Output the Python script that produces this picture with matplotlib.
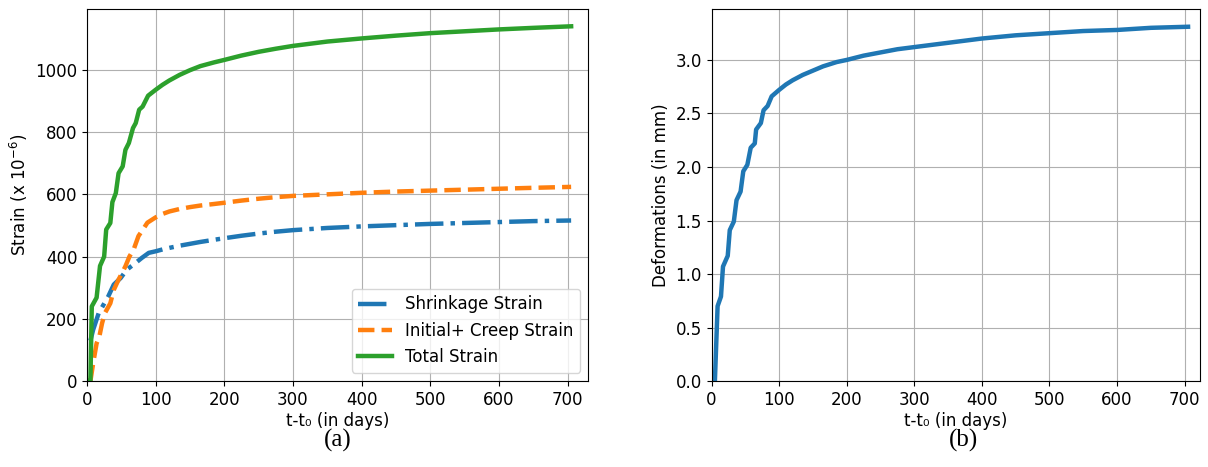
import matplotlib
matplotlib.use("Agg")
import matplotlib.pyplot as plt

# time axis for the strain curves (days)
t_total = [1, 5, 7, 14, 19, 25, 28, 34, 37, 42, 46, 52, 56, 61, 67, 71, 76, 81, 89, 100,
           110, 120, 135, 150, 165, 185, 200, 225, 250, 275, 300, 350, 400, 450, 500,
           550, 600, 650, 705]
total_strain = [0, 0, 240, 268, 370, 400, 487, 508, 575, 604, 668, 690, 743, 765, 813, 829,
                872, 882, 917, 936, 952, 966, 984, 999, 1012, 1024, 1032, 1046, 1058, 1068,
                1077, 1091, 1101, 1110, 1118, 1124, 1130, 1135, 1140]

t_creep = [5, 9, 14, 18, 22, 26, 34, 39, 46, 51, 56, 62, 68, 75, 83, 88, 100,
           110, 120, 135, 150, 165, 185, 200, 225, 250, 275, 300, 350, 400, 450, 500,
           550, 600, 650, 705]
creep_strain = [0, 57, 121, 143, 186, 218, 250, 293, 326, 347, 369, 401, 423, 466, 492, 509,
                526, 537, 545, 553, 559, 564, 569, 573, 580, 586, 591, 595, 600, 605, 609,
                612, 615, 618, 621, 624]

t_shrink = [5, 9, 17, 24, 31, 39, 49, 58, 71, 80, 90, 100,
            110, 120, 135, 150, 165, 185, 200, 225, 250, 275, 300, 350, 400, 450, 500,
            550, 600, 650, 705]
shrink_strain = [130, 165, 218, 245, 272, 310, 331, 358, 380, 396, 412, 417,
                 423, 428, 435, 441, 447, 454, 459, 467, 474, 480, 485, 492, 497, 501, 505,
                 508, 511, 514, 516]

t_def = [5, 9, 14, 17, 24, 27, 33, 37, 43, 47, 53, 58, 64, 66, 73, 77, 83, 89, 100,
         110, 120, 135, 150, 165, 185, 200, 225, 250, 275, 300, 350, 400, 450, 500,
         550, 600, 650, 705]
deformation = [0, 0.70, 0.79, 1.07, 1.17, 1.41, 1.49, 1.69, 1.77, 1.96, 2.02, 2.18, 2.22,
               2.35, 2.41, 2.53, 2.57, 2.66, 2.72, 2.77, 2.81, 2.86, 2.90, 2.94, 2.98, 3.00,
               3.04, 3.07, 3.10, 3.12, 3.16, 3.20, 3.23, 3.25, 3.27, 3.28, 3.30, 3.31]

plt.rcParams['font.size'] = 12

fig = plt.figure(figsize=(12.08, 4.67), dpi=100)
ax1 = fig.add_axes([0.072, 0.184, 0.415, 0.797])
ax2 = fig.add_axes([0.589, 0.184, 0.404, 0.797])

# (a) strains
ax1.plot(t_shrink, shrink_strain, '-.', color='#1f77b4', linewidth=3.2, label='Shrinkage Strain')
ax1.plot(t_creep, creep_strain, '--', color='#ff7f0e', linewidth=3.2, label='Initial+ Creep Strain')
ax1.plot(t_total, total_strain, '-', color='#2ca02c', linewidth=3.2, label='Total Strain')
ax1.set_xlim(0, 730)
ax1.set_ylim(0, 1196)
ax1.set_xticks(range(0, 701, 100))
ax1.set_yticks(range(0, 1001, 200))
ax1.grid(True)
ax1.set_xlabel('t-t\u2080 (in days)', labelpad=2)
ax1.set_ylabel('Strain (x $10^{-6}$)')
ax1.legend(loc='lower right', fontsize=12)

# (b) deformations
ax2.plot(t_def, deformation, '-', color='#1f77b4', linewidth=3.2)
ax2.set_xlim(0, 722)
ax2.set_ylim(0, 3.477)
ax2.set_xticks(range(0, 701, 100))
ax2.set_yticks([0.0, 0.5, 1.0, 1.5, 2.0, 2.5, 3.0])
ax2.grid(True)
ax2.set_xlabel('t-t\u2080 (in days)', labelpad=2)
ax2.set_ylabel('Deformations (in mm)')

fig.text(338 / 1208, 1 - 440 / 467, '(a)', ha='center', va='center',
         family='Liberation Serif', fontsize=18)
fig.text(963 / 1208, 1 - 440 / 467, '(b)', ha='center', va='center',
         family='Liberation Serif', fontsize=18)

fig.savefig('out.png', dpi=100)
